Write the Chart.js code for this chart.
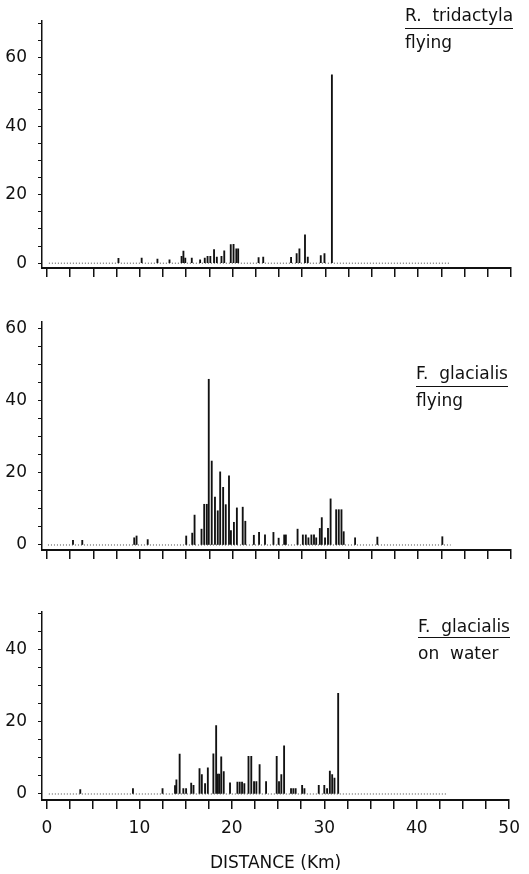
<!DOCTYPE html>
<html>
<head>
<meta charset="utf-8">
<script src="https://cdn.jsdelivr.net/npm/chart.js@4.4.1/dist/chart.umd.min.js"></script>
<style>
  body { margin: 0; background: #fff; }
  #page { position: relative; width: 529px; height: 874px; overflow: hidden; font-family: "DejaVu Sans", sans-serif; color: #111; }
  .panel { position: absolute; left: 0; width: 529px; }
  .lab { position: absolute; font-size: 17px; line-height: 20px; white-space: pre; }
  .ul { border-bottom: 1.5px solid #111; }
</style>
</head>
<body>
<div id="page">
  <div class="panel" style="top:0;height:290px"><canvas id="c1"></canvas></div>
  <div class="panel" style="top:290px;height:282px"><canvas id="c2"></canvas></div>
  <div class="panel" style="top:572px;height:302px"><canvas id="c3"></canvas></div>

  <div class="lab ul" style="left:405px;top:5px;padding-bottom:3px">R.  tridactyla</div>
  <div class="lab" style="left:405px;top:32px">flying</div>
  <div class="lab ul" style="left:416px;top:363px;padding-bottom:3px">F.  glacialis</div>
  <div class="lab" style="left:416px;top:390px">flying</div>
  <div class="lab ul" style="left:418px;top:616px;padding-bottom:1px">F.  glacialis</div>
  <div class="lab" style="left:418px;top:643px">on  water</div>
</div>
<script>
// distance (km) and number of birds per count
const rtFlyKm = [7.7, 10.2, 11.9, 13.2, 14.5, 14.7, 14.9, 15.6, 16.5, 17.0, 17.3, 17.6, 18.0, 18.3, 18.8,
  19.1, 19.8, 20.1, 20.4, 20.6, 22.8, 23.3, 26.3, 26.9, 27.2, 27.8, 28.1, 29.5, 29.9, 30.7];
const rtFlyN = [1.4, 1.5, 1.2, 1, 2, 3.5, 1.5, 1.5, 1, 1.5, 2, 2, 4, 1.8, 2,
  3.6, 5.4, 5.5, 4.2, 4.2, 1.6, 1.8, 1.7, 2.8, 4.2, 8.3, 1.8, 2.2, 2.8, 55];

const fgFlyKm = [2.8, 3.8, 9.4, 9.65, 10.85, 15.0, 15.65, 15.9, 16.65, 16.94, 17.22, 17.43, 17.75, 18.1, 18.4,
  18.66, 18.98, 19.26, 19.61, 19.82, 20.14, 20.46, 21.09, 21.37, 22.29, 22.85, 23.49, 24.4, 24.96, 25.56,
  25.74, 27.0, 27.57, 27.89, 28.17, 28.49, 28.77, 29.01, 29.4, 29.61, 29.96, 30.28, 30.56, 31.16, 31.44,
  31.73, 31.97, 33.2, 35.6, 42.6];
const fgFlyN = [1.3, 1.3, 2, 2.5, 1.5, 2.5, 3.3, 8.3, 4.4, 11.3, 11.3, 46, 23.3, 13.3, 9.5,
  20.3, 16, 11.2, 19.2, 4, 6.3, 10.3, 10.5, 6.6, 2.7, 3.5, 2.8, 3.5, 1.9, 2.8,
  2.8, 4.4, 2.8, 2.8, 2, 2.8, 2.8, 2, 4.6, 7.6, 2, 4.6, 12.8, 9.8, 9.8,
  9.8, 3.7, 2, 2.2, 2.3];

const fgWaterKm = [3.6, 9.3, 12.5, 13.85, 14.0, 14.35, 14.75, 15.05, 15.6, 15.85, 16.5, 16.75, 17.1, 17.4, 18.0,
  18.3, 18.48, 18.64, 18.85, 19.12, 19.8, 20.6, 20.85, 21.1, 21.35, 21.8, 22.1, 22.4, 22.65, 23.0,
  23.7, 24.85, 25.1, 25.35, 25.65, 26.4, 26.65, 26.9, 27.6, 27.85, 29.4, 30.0, 30.3, 30.6, 30.85,
  31.1, 31.5];
const fgWaterN = [1.2, 1.5, 1.5, 2.3, 3.9, 11, 1.5, 1.5, 3, 2.4, 7, 5.4, 2.9, 7.2, 11.1,
  18.9, 5.5, 5.5, 10.3, 6.2, 3.1, 3.3, 3.3, 3.3, 2.9, 10.4, 10.4, 3.4, 3.4, 8.1,
  3.4, 10.4, 3.4, 5.4, 13.3, 1.5, 1.5, 1.5, 2.4, 1.5, 2.4, 2.4, 1.5, 6.3, 5.4,
  4.4, 27.8];

// axis ticks
const xTicks = [0, 2.5, 5, 7.5, 10, 12.5, 15, 17.5, 20, 22.5, 25, 27.5, 30, 32.5, 35, 37.5, 40, 42.5, 45, 47.5, 50];
const xLabels = [0, 10, 20, 30, 40, 50];
const yTicks70 = [0, 5, 10, 15, 20, 25, 30, 35, 40, 45, 50, 55, 60, 65, 70];
const yTicks60 = [0, 5, 10, 15, 20, 25, 30, 35, 40, 45, 50, 55, 60];
const yTicks50 = [0, 5, 10, 15, 20, 25, 30, 35, 40, 45, 50];
const yLabels = [0, 20, 40, 60];

const ink = '#111';
const font = { family: '"DejaVu Sans", sans-serif', size: 17 };

function drawPanel(id, km, count, opt) {
  const bars = km.map((x, i) => ({ x: x, y: count[i] }));
  new Chart(document.getElementById(id), {
    type: 'bar',
    data: {
      datasets: [
        {
          type: 'line',
          data: [{ x: opt.dotFrom, y: 0 }, { x: opt.dotTo, y: 0 }],
          borderColor: '#444', borderWidth: 1, borderDash: [1, 2],
          pointRadius: 0, order: 2
        },
        { data: bars, backgroundColor: '#111', barThickness: 1.2, order: 1 }
      ]
    },
    options: {
      animation: false,
      responsive: true,
      maintainAspectRatio: false,
      layout: { padding: { top: opt.padTop, right: 18, left: 0, bottom: 0 } },
      plugins: { legend: { display: false }, tooltip: { enabled: false } },
      scales: {
        x: {
          type: 'linear', min: -0.54, max: 50, offset: false,
          afterBuildTicks: s => { s.ticks = xTicks.map(v => ({ value: v })); },
          afterFit: s => { s.height = opt.xHeight; },
          grid: { offset: false, drawOnChartArea: false, tickLength: 9, color: ink, lineWidth: 1.5 },
          border: { color: ink, width: 2 },
          ticks: {
            autoSkip: false, maxRotation: 0, padding: 9, color: ink, font: font,
            callback: v => (opt.showX && xLabels.includes(v)) ? String(v) : ''
          },
          title: {
            display: opt.showX, text: 'DISTANCE (Km)', color: ink,
            font: font, padding: { top: 0, bottom: 0 }
          }
        },
        y: {
          min: opt.yMin, max: opt.yMax,
          afterBuildTicks: s => { s.ticks = opt.yTicks.map(v => ({ value: v })); },
          afterFit: s => { s.width = 42; },
          grid: { drawOnChartArea: false, tickLength: 4, color: ink, lineWidth: 1 },
          border: { color: ink, width: 1.5 },
          ticks: {
            autoSkip: false, padding: 11, color: ink, font: font,
            callback: v => yLabels.includes(v) ? String(v) : ''
          }
        }
      }
    }
  });
}

drawPanel('c1', rtFlyKm, rtFlyN, {
  padTop: 12, xHeight: 22, yMin: -1.41, yMax: 70.7, yTicks: yTicks70,
  showX: false, dotFrom: 0.2, dotTo: 43.5
});
drawPanel('c2', fgFlyKm, fgFlyN, {
  padTop: 32, xHeight: 22, yMin: -1.39, yMax: 61.9, yTicks: yTicks60,
  showX: false, dotFrom: 0.1, dotTo: 43.5
});
drawPanel('c3', fgWaterKm, fgWaterN, {
  padTop: 40, xHeight: 74, yMin: -1.66, yMax: 50.3, yTicks: yTicks50,
  showX: true, dotFrom: 0.2, dotTo: 43.3
});
</script>
</body>
</html>
